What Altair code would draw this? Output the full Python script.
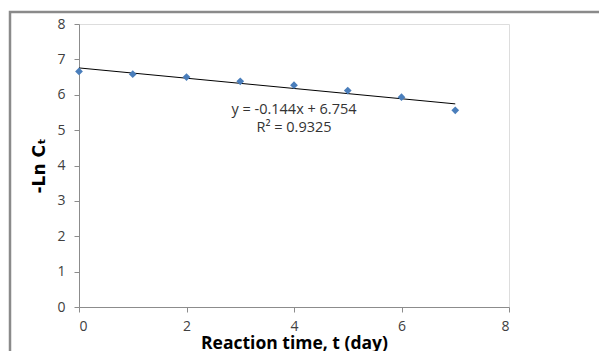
import altair as alt
import pandas as pd

days = [0, 1, 2, 3, 4, 5, 6, 7]
neg_ln_ct = [6.66, 6.58, 6.50, 6.38, 6.27, 6.12, 5.93, 5.56]
eq_lines = ["y = -0.144x + 6.754", "R² = 0.9325"]
eq_x = [4.0, 4.0]
eq_y = [5.58, 5.06]
x_ticks = [0, 2, 4, 6, 8]
y_ticks = [0, 1, 2, 3, 4, 5, 6, 7, 8]

df = pd.DataFrame({"t": days, "y": neg_ln_ct})
eq = pd.DataFrame({"x": eq_x, "y": eq_y, "label": eq_lines})

W, H = 430, 283
FONT = "Open Sans"
AXC = "#8c8c8c"
LBL = "#404040"

xscale = alt.Scale(domain=[0, 8], nice=False)
yscale = alt.Scale(domain=[0, 8], nice=False)

xaxis = alt.Axis(values=x_ticks, title="Reaction time, t (day)", grid=False,
                 domainColor=AXC, tickColor=AXC, tickSize=5, labelColor=LBL,
                 labelFontSize=14, labelFont=FONT, labelPadding=7,
                 titleFont=FONT, titleFontSize=17.5, titleFontWeight="bold",
                 titleColor="#000000", titlePadding=1)
yaxis = alt.Axis(values=y_ticks, title="-Ln Cₜ", grid=False, labelOverlap=False,
                 domainColor=AXC, tickColor=AXC, tickSize=5, labelColor=LBL,
                 labelFontSize=14, labelFont=FONT, labelPadding=9,
                 titleFont="DejaVu Sans", titleFontSize=17, titleFontWeight="bold",
                 titleColor="#000000", titlePadding=8)

X = alt.X("t:Q", scale=xscale, axis=xaxis)
Y = alt.Y("y:Q", scale=yscale, axis=yaxis)

frame = alt.Chart(pd.DataFrame({"a": [0]})).mark_rect(
    fill=None, stroke="#8a8a8a", strokeWidth=2.5
).encode(x=alt.value(-69), x2=alt.value(700), y=alt.value(-12), y2=alt.value(400))

pts = alt.Chart(df).mark_point(shape="diamond", filled=True, size=60,
                               color="#4a7ebb", opacity=1).encode(x=X, y=Y)

trend = alt.Chart(df).transform_regression("t", "y", extent=[0, 7]).mark_line(
    color="#000000", strokeWidth=1
).encode(x=X, y=Y)

txt = alt.Chart(eq).mark_text(font=FONT, fontSize=14.5, color="#333333", align="center").encode(
    x=alt.X("x:Q", scale=xscale, axis=xaxis),
    y=alt.Y("y:Q", scale=yscale, axis=yaxis),
    text="label:N",
)

chart = alt.layer(frame, trend, pts, txt).properties(
    width=W, height=H,
    autosize=alt.AutoSizeParams(type="none"),
    padding={"left": 71, "top": 16, "right": 90, "bottom": 44},
).configure_view(stroke=None).configure(background="#ffffff")

chart.save("out.html", embed_options={"renderer": "svg", "actions": False})
